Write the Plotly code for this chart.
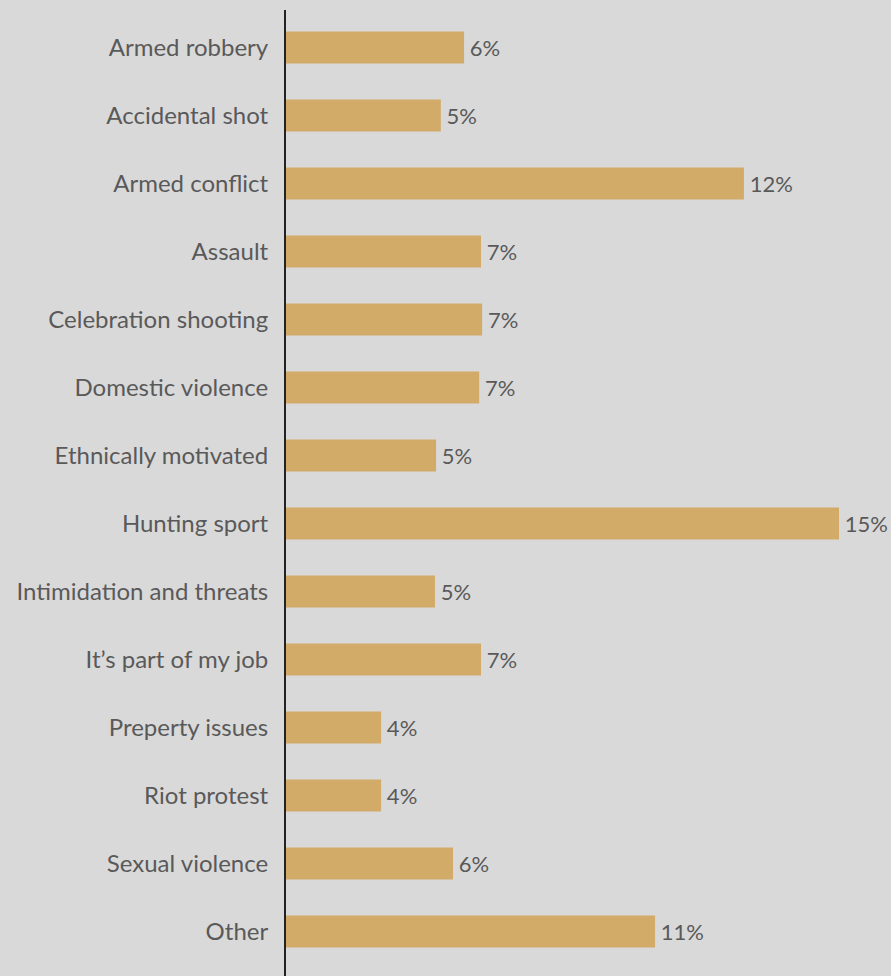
import plotly.graph_objects as go

categories = ["Armed robbery", "Accidental shot", "Armed conflict", "Assault",
              "Celebration shooting", "Domestic violence", "Ethnically motivated",
              "Hunting sport", "Intimidation and threats", "It\u2019s part of my job",
              "Preperty issues", "Riot protest", "Sexual violence", "Other"]
bar_lengths = [4.83, 4.20, 12.42, 5.29, 5.32, 5.24, 4.07, 15.0, 4.04, 5.29, 2.58, 2.58, 4.53, 10.01]
value_labels = ["6%", "5%", "12%", "7%", "7%", "7%", "5%", "15%", "5%", "7%", "4%", "4%", "6%", "11%"]

BG = "#d9d9d9"
TXT = "#595959"
FONT = "Lato"

fig = go.Figure(go.Bar(
    x=bar_lengths, y=categories, orientation="h",
    marker=dict(color="#d3ab69", line=dict(width=0)),
    text=["\u2009" + t for t in value_labels], textposition="outside",
    textfont=dict(family=FONT, size=22, color=TXT),
    cliponaxis=False, width=0.47,
))

fig.update_layout(
    width=891, height=976,
    margin=dict(l=286, r=0, t=10, b=0),
    paper_bgcolor=BG, plot_bgcolor=BG,
    showlegend=False,
    font=dict(family=FONT, color=TXT),
    xaxis=dict(range=[0, 16.41], visible=False, fixedrange=True),
    yaxis=dict(range=[13.654, -0.551], showline=True, linewidth=2, linecolor="#222222",
               showgrid=False, zeroline=False, ticks="outside", ticklen=11, tickcolor=BG,
               tickfont=dict(family=FONT, size=24, color=TXT), fixedrange=True),
)

fig.write_html("out.html", config={"displayModeBar": False},
               post_script="document.body.style.margin='0';document.body.style.background='%s';" % BG)
